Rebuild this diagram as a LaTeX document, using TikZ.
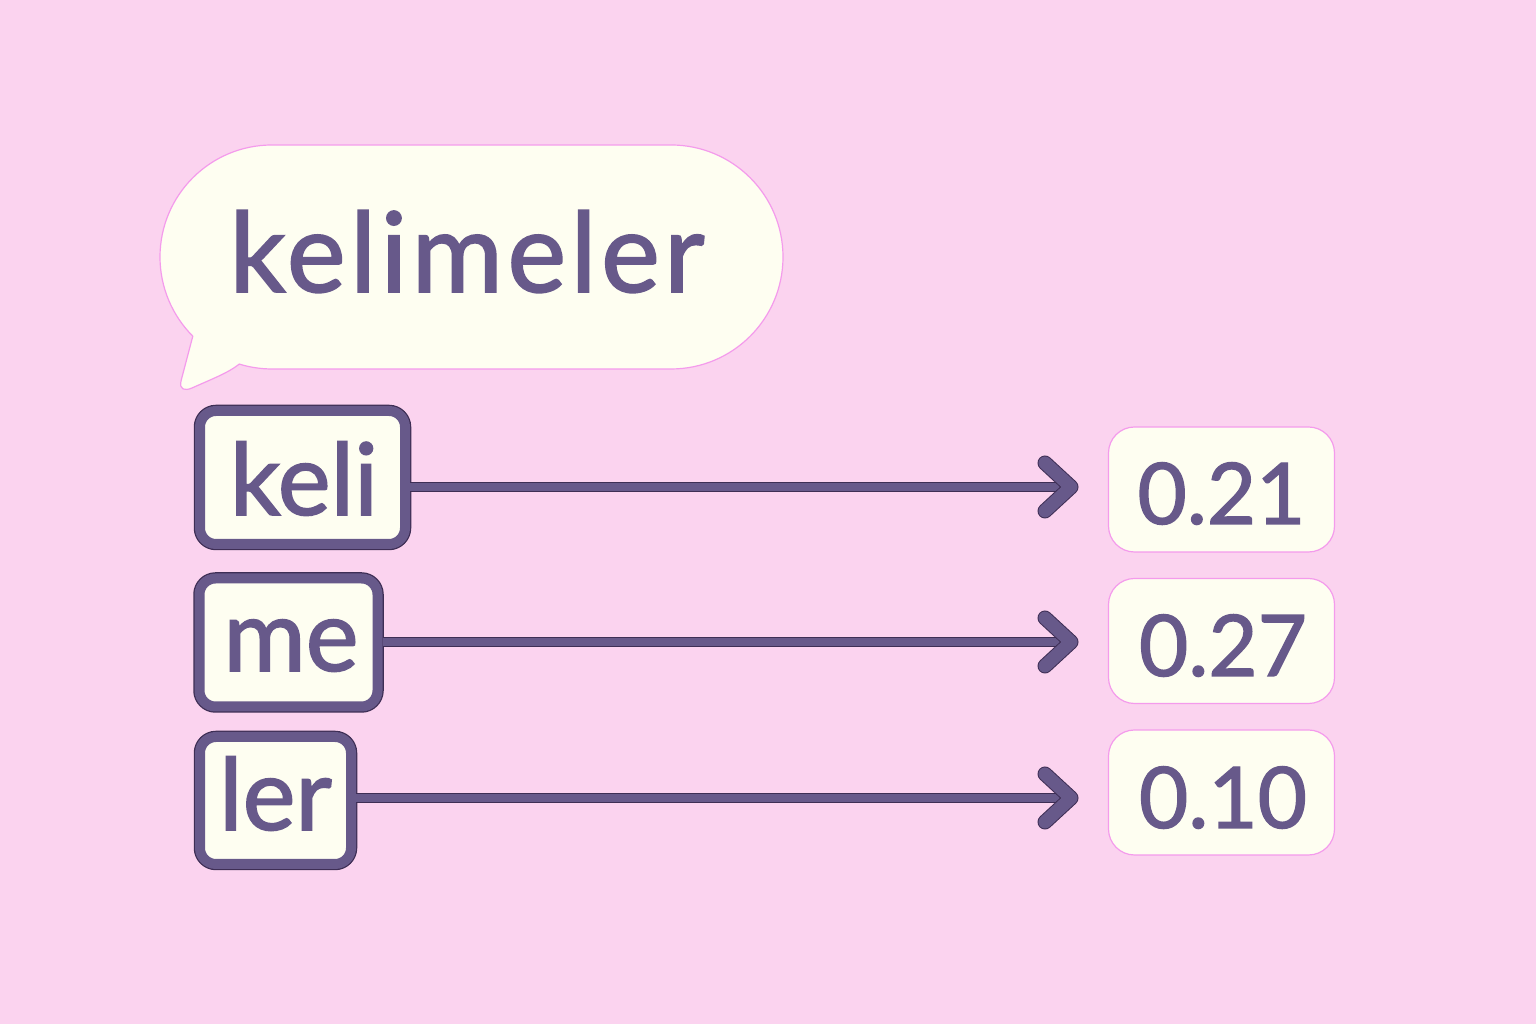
\documentclass[tikz,border=0pt]{standalone}
\usepackage{fontspec}
\setmainfont{Lato}[BoldFont={Lato}, BoldFeatures={FakeBold=1.6}]
\newfontfamily\widefont{Lato}[LetterSpace=4, BoldFont={Lato}, BoldFeatures={FakeBold=1.6, LetterSpace=4}]
\definecolor{bg}{HTML}{FBD3EF}
\definecolor{cream}{HTML}{FEFEF1}
\definecolor{ink}{HTML}{67598A}
\definecolor{inkdark}{HTML}{3E2E55}
\definecolor{pinkline}{HTML}{F49BEC}
\tikzset{
  tokenbox/.style={draw=ink, line width=10pt, fill=cream, rounded corners=16pt,
    preaction={draw=inkdark, line width=12.5pt}, inner sep=0pt},
  tokentext/.style={anchor=base, inner sep=0pt, text=ink,
    font=\fontsize{100}{100}\selectfont\bfseries},
  valbox/.style={draw=pinkline, line width=1.2pt, fill=cream, rounded corners=26pt,
    minimum width=226pt, minimum height=125pt, inner sep=0pt, text=ink},
  valtext/.style={anchor=base, inner sep=0pt, text=ink,
    font=\fontsize{85}{85}\selectfont\bfseries},
  conn/.style={draw=ink, line width=8pt, preaction={draw=inkdark, line width=10pt}},
  chevron/.style={draw=ink, line width=13pt, line cap=round, line join=round,
    preaction={draw=inkdark, line width=15pt, line cap=round, line join=round}},
}
\begin{document}
\begin{tikzpicture}[x=1pt,y=1pt]
\fill[bg] (0,0) rectangle (1536,1024);
\useasboundingbox (0,0) rectangle (1536,1024);
% speech bubble
\draw[draw=pinkline, line width=1.2pt, fill=cream]
  (272,655) -- (671,655) arc[start angle=-90, end angle=90, radius=112]
  -- (272,879) arc[start angle=90, end angle=225, radius=112]
  -- (181,643) .. controls (179,634) and (185,633) .. (192,636)
  .. controls (212,645) and (228,651) .. (239.3,659.9)
  arc[start angle=253, end angle=270, radius=112] -- cycle;
\node[anchor=base, inner sep=0pt, text=ink, font=\widefont\fontsize{111}{111}\selectfont\bfseries]
  (word) at (467,732) {kelimeler};
% token boxes
\node[tokenbox, minimum width=205pt, minimum height=133pt] (keli) at (302.5,546.5) {};
\node[tokentext] (tkeli) at (304,509) {keli};
\node[tokenbox, minimum width=178pt, minimum height=128pt] (me) at (288.5,381.5) {};
\node[tokentext] (tme) at (291,353) {me};
\node[tokenbox, minimum width=151pt, minimum height=127pt] (ler) at (275.5,223.5) {};
\node[tokentext] (tler) at (275.5,194) {ler};
% value boxes
\node[valbox] (v1) at (1221.5,534.5) {};
\node[valtext] (n1) at (1221.5,500) {0.21};
\node[valbox] (v2) at (1221.5,383) {};
\node[valtext] (n2) at (1223,348) {0.27};
\node[valbox] (v3) at (1221.5,231.5) {};
\node[valtext] (n3) at (1223,196) {0.10};
% arrows
\coordinate (t1) at (1071,537);
\coordinate (t2) at (1071,382);
\coordinate (t3) at (1071,226);
\foreach \b/\t in {keli/t1, me/t2, ler/t3}{
  \draw[conn] (\b.east |- \t) -- ([xshift=-4pt]\t);
  \draw[chevron] ([xshift=-26pt,yshift=24pt]\t) -- (\t) -- ([xshift=-26pt,yshift=-24pt]\t);
}
\end{tikzpicture}
\end{document}
